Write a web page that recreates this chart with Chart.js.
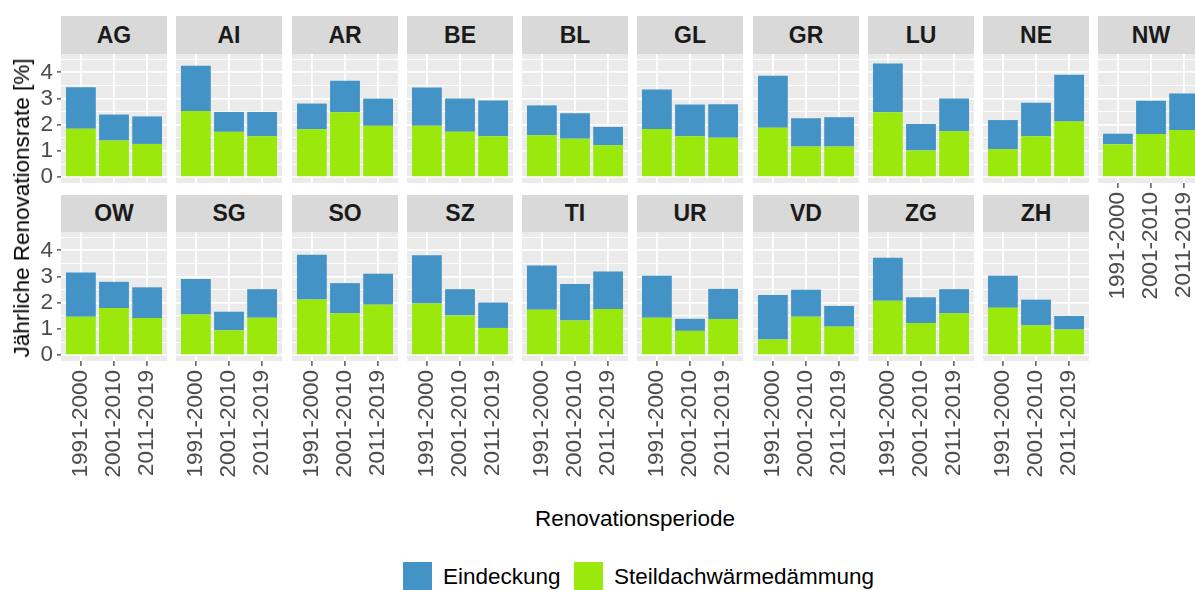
<!DOCTYPE html>
<html>
<head>
<meta charset="utf-8">
<script src="https://cdn.jsdelivr.net/npm/chart.js@4.4.1/dist/chart.umd.min.js"></script>
<style>
  body { margin: 0; width: 1195px; height: 590px; overflow: hidden; position: relative; background: #fff;
         font-family: 'Liberation Sans', Arial, sans-serif; }
  canvas { position: absolute; }
  .strip { position: absolute; background: #d9d9d9; color: #1a1a1a; font-weight: bold; font-size: 23px;
           text-align: center; box-sizing: border-box; }
  .title { position: absolute; color: #000; font-size: 22.5px; white-space: nowrap; }
  .key { position: absolute; width: 29px; height: 29px; }
</style>
</head>
<body>
<script>
// Kantone, wie im Facet-Layout (10 pro Zeile)
const cantons = ['AG', 'AI', 'AR', 'BE', 'BL', 'GL', 'GR', 'LU', 'NE', 'NW',
                 'OW', 'SG', 'SO', 'SZ', 'TI', 'UR', 'VD', 'ZG', 'ZH'];
const periods = ['1991-2000', '2001-2010', '2011-2019'];

// Steildachwärmedämmung (unterer Teil), in %
const steildach = [
  [1.85, 1.40, 1.27], [2.53, 1.73, 1.56], [1.83, 2.48, 1.96], [1.96, 1.73, 1.56], [1.60, 1.47, 1.22],
  [1.84, 1.56, 1.51], [1.89, 1.17, 1.17], [2.48, 1.02, 1.75], [1.07, 1.56, 2.13], [1.26, 1.65, 1.80],
  [1.47, 1.80, 1.42], [1.55, 0.95, 1.43], [2.13, 1.60, 1.93], [1.97, 1.52, 1.04], [1.73, 1.32, 1.76],
  [1.43, 0.93, 1.38], [0.60, 1.47, 1.09], [2.08, 1.23, 1.60], [1.81, 1.14, 0.98]
];
// Eindeckung (oberer Teil, gestapelt), in %
const eindeckung = [
  [1.58, 0.99, 1.05], [1.72, 0.76, 0.93], [0.98, 1.20, 1.04], [1.46, 1.27, 1.37], [1.14, 0.97, 0.70],
  [1.51, 1.21, 1.27], [1.98, 1.08, 1.12], [1.86, 1.01, 1.25], [1.11, 1.28, 1.78], [0.40, 1.27, 1.39],
  [1.69, 1.00, 1.17], [1.36, 0.71, 1.09], [1.70, 1.15, 1.18], [1.84, 1.00, 0.97], [1.69, 1.40, 1.43],
  [1.60, 0.46, 1.15], [1.70, 1.03, 0.79], [1.64, 0.98, 0.92], [1.22, 0.98, 0.52]
];
const yTicks = [0, 0.5, 1, 1.5, 2, 2.5, 3, 3.5, 4, 4.5];

const BLUE = '#4393c6';
const GREEN = '#9ae80c';
const FONT = "'Liberation Sans', Arial, sans-serif";

Chart.defaults.font.family = FONT;
Chart.defaults.animation = false;

const panelBg = {
  id: 'panelBg',
  beforeDraw(chart) {
    const a = chart.chartArea, ctx = chart.ctx;
    ctx.save();
    ctx.fillStyle = '#ebebeb';
    ctx.fillRect(a.left, a.top, a.right - a.left, a.bottom - a.top);
    ctx.restore();
  }
};

const rows = [{ strip: 16, plot: 54 }, { strip: 195, plot: 232 }];
const plotH = 129, panelW = 106, xAxisH = 125;

function addDiv(cls, text, style) {
  const d = document.createElement('div');
  d.className = cls;
  d.textContent = text;
  Object.assign(d.style, style);
  document.body.appendChild(d);
  return d;
}

cantons.forEach((name, i) => {
  const r = i < 10 ? 0 : 1;
  const c = i < 10 ? i : i - 10;
  const left = Math.round(61 + c * 115.25);
  const withX = r === 1 || c === 9;
  const firstCol = c === 0;

  addDiv('strip', name, {
    left: left + 'px', top: rows[r].strip + 'px', width: panelW + 'px',
    height: (rows[r].plot - rows[r].strip) + 'px', lineHeight: (rows[r].plot - rows[r].strip) + 'px'
  });

  const cv = document.createElement('canvas');
  const cLeft = firstCol ? 0 : left;
  const cW = firstCol ? left + panelW : panelW;
  const cH = plotH + (withX ? xAxisH : 0);
  cv.width = cW; cv.height = cH;
  cv.style.left = cLeft + 'px';
  cv.style.top = rows[r].plot + 'px';
  cv.style.width = cW + 'px';
  cv.style.height = cH + 'px';
  document.body.appendChild(cv);

  new Chart(cv, {
    type: 'bar',
    data: {
      datasets: [
        { label: 'Steildachwärmedämmung', data: steildach[i].map((v, k) => ({ x: k + 1, y: v })),
          backgroundColor: GREEN, borderWidth: 0 },
        { label: 'Eindeckung', data: eindeckung[i].map((v, k) => ({ x: k + 1, y: v })),
          backgroundColor: BLUE, borderWidth: 0 }
      ]
    },
    options: {
      responsive: false,
      devicePixelRatio: 1,
      layout: { padding: 0 },
      barPercentage: 0.9,
      categoryPercentage: 1.0,
      plugins: { legend: { display: false }, tooltip: { enabled: false } },
      scales: {
        x: {
          type: 'linear', stacked: true, offset: false, min: 0.4, max: 3.6,
          afterBuildTicks: s => { s.ticks = periods.map((p, k) => ({ value: k + 1 })); },
          afterFit: s => { s.height = withX ? xAxisH : 0; s.paddingLeft = 0; s.paddingRight = 0; },
          border: { display: false },
          grid: { offset: false, color: '#ffffff', lineWidth: 1.8, drawTicks: withX, tickLength: 5,
                  tickColor: '#333333', tickWidth: 1.2 },
          ticks: {
            display: withX, autoSkip: false, minRotation: 90, maxRotation: 90, padding: 4,
            color: '#4d4d4d', font: { size: 22.5 },
            callback: v => periods[v - 1]
          }
        },
        y: {
          stacked: true, min: -0.22, max: 4.70,
          afterBuildTicks: s => { s.ticks = yTicks.map(v => ({ value: v })); },
          afterFit: s => { s.width = firstCol ? left : 0; s.paddingTop = 0; s.paddingBottom = 0; },
          border: { display: false },
          grid: {
            color: '#ffffff',
            lineWidth: ctx => Number.isInteger(ctx.tick.value) ? 1.8 : 0.9,
            drawTicks: firstCol, tickLength: 4, tickWidth: 1.2,
            tickColor: ctx => Number.isInteger(ctx.tick.value) ? '#333333' : 'rgba(0,0,0,0)'
          },
          ticks: {
            display: firstCol, autoSkip: false, padding: 4, color: '#4d4d4d', font: { size: 22.5 },
            callback: v => Number.isInteger(v) ? String(v) : ''
          }
        }
      }
    },
    plugins: [panelBg]
  });
});

// Achsentitel
addDiv('title', 'Jährliche Renovationsrate [%]', {
  left: '22px', top: '208px', transform: 'translate(-50%, -50%) rotate(-90deg)'
});
addDiv('title', 'Renovationsperiode', {
  left: '635px', top: '519px', transform: 'translate(-50%, -50%)'
});

// Legende
addDiv('key', '', { left: '403px', top: '562px', background: BLUE });
addDiv('title', 'Eindeckung', { left: '443px', top: '577px', transform: 'translateY(-50%)' });
addDiv('key', '', { left: '574px', top: '562px', background: GREEN });
addDiv('title', 'Steildachwärmedämmung', { left: '614px', top: '577px', transform: 'translateY(-50%)' });
</script>
</body>
</html>
